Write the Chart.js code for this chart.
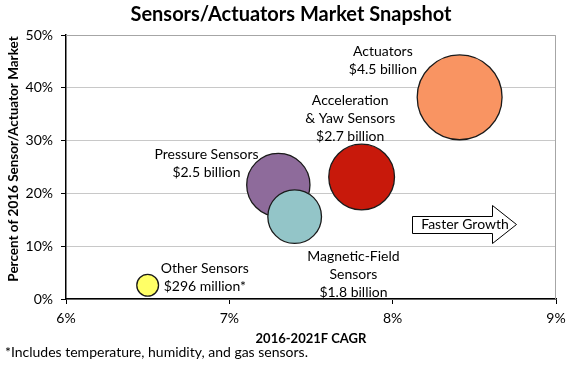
<!DOCTYPE html>
<html lang="en">
<head>
    <meta charset="UTF-8">
    <title>Sensors/Actuators Market Snapshot</title>
    <script src="https://cdn.jsdelivr.net/npm/chart.js"></script>
    <style>
        body { margin: 0; background: #fff; }
        #wrap { width: 571px; height: 366px; }
    </style>
</head>
<body>
<div id="wrap"><canvas id="snapshot" width="571" height="366"></canvas></div>
<script>
// market segments (drawing order: small/back first)
const segments = ['Other Sensors', 'Pressure Sensors', 'Magnetic-Field Sensors', 'Acceleration & Yaw Sensors', 'Actuators'];
const cagr = [6.5, 7.3, 7.4, 7.81, 8.41];          // 2016-2021F CAGR, %
const marketShare = [2.6, 21.6, 15.6, 23.1, 38.2];  // % of 2016 market
const marketSize = [0.296, 2.5, 1.8, 2.7, 4.5];     // $ billion
const sizeText = ['$296 million*', '$2.5 billion', '$1.8 billion', '$2.7 billion', '$4.5 billion'];
const xTicks = [6, 7, 8, 9];
const yTicks = [0, 10, 20, 30, 40, 50];

const colors = ['#ffff66', '#8e6b9b', '#93c5c8', '#c8190b', '#f99462'];
const FONT = 'Lato, "Open Sans", sans-serif';

// label name lines + where the text block is centred (axis units)
const labelLines = [
    ['Other Sensors'],
    ['Pressure Sensors'],
    ['Magnetic-Field', 'Sensors'],
    ['Acceleration', '& Yaw Sensors'],
    ['Actuators']
];
const labelAt = [[6.85, 4.1], [6.86, 25.6], [7.76, 4.7], [7.74, 34.1], [7.94, 45.1]];

const extras = {
    id: 'extras',
    beforeDatasetsDraw(chart) {
        const {ctx, chartArea: a} = chart;
        ctx.save();
        // grey frame on top and right
        ctx.strokeStyle = '#a6a6a6';
        ctx.lineWidth = 1;
        ctx.beginPath();
        ctx.moveTo(a.left, a.top + 0.5);
        ctx.lineTo(a.right - 0.5, a.top + 0.5);
        ctx.lineTo(a.right - 0.5, a.bottom);
        ctx.stroke();
        ctx.restore();
    },
    afterDatasetsDraw(chart) {
        const {ctx} = chart;
        const xs = chart.scales.x, ys = chart.scales.y;
        ctx.save();
        ctx.fillStyle = '#000';
        ctx.textAlign = 'center';
        ctx.textBaseline = 'middle';

        // title
        ctx.font = 'bold 20px ' + FONT;
        ctx.fillText('Sensors/Actuators Market Snapshot', 291, 15);

        // y axis title (sits a bit above the axis middle in the original)
        ctx.save();
        ctx.translate(14, 159);
        ctx.rotate(-Math.PI / 2);
        ctx.font = 'bold 13.5px ' + FONT;
        ctx.fillText('Percent of 2016 Sensor/Actuator Market', 0, 0);
        ctx.restore();

        // bubble labels
        ctx.font = '14px ' + FONT;
        labelLines.forEach((lines, i) => {
            const all = lines.concat([sizeText[i]]);
            const cx = xs.getPixelForValue(labelAt[i][0]);
            const cy = ys.getPixelForValue(labelAt[i][1]);
            const lh = 18;
            all.forEach((t, k) => {
                ctx.fillText(t, cx, cy + (k - (all.length - 1) / 2) * lh);
            });
        });

        // "Faster Growth" arrow
        ctx.beginPath();
        ctx.moveTo(412.5, 216.5);
        ctx.lineTo(492.5, 216.5);
        ctx.lineTo(492.5, 205.5);
        ctx.lineTo(516.5, 224.5);
        ctx.lineTo(492.5, 243.5);
        ctx.lineTo(492.5, 233.5);
        ctx.lineTo(412.5, 233.5);
        ctx.closePath();
        ctx.fillStyle = '#fff';
        ctx.fill();
        ctx.strokeStyle = '#000';
        ctx.lineWidth = 1;
        ctx.stroke();
        ctx.fillStyle = '#000';
        ctx.font = '14px ' + FONT;
        ctx.fillText('Faster Growth', 465, 224);

        // footnote
        ctx.textAlign = 'left';
        ctx.font = '14px ' + FONT;
        ctx.fillText('*Includes temperature, humidity, and gas sensors.', 5, 352);
        ctx.restore();
    }
};

new Chart(document.getElementById('snapshot'), {
    type: 'bubble',
    data: {
        datasets: [{
            label: 'Segments',
            data: segments.map((s, i) => ({x: cagr[i], y: marketShare[i], size: marketSize[i]})),
            radius: ctx => 20 * Math.sqrt(marketSize[ctx.dataIndex]),
            backgroundColor: colors,
            borderColor: '#1a1a1a',
            borderWidth: 1.3,
            clip: false
        }]
    },
    options: {
        responsive: false,
        animation: false,
        events: [],
        layout: { autoPadding: false, padding: { top: 35, right: 15, left: 0, bottom: 0 } },
        plugins: { legend: { display: false }, tooltip: { enabled: false } },
        scales: {
            x: {
                type: 'linear',
                min: 6, max: 9,
                afterBuildTicks: s => { s.ticks = xTicks.map(v => ({value: v})); },
                afterFit: s => { s.height = 67; s.paddingLeft = 0; s.paddingRight = 0; },
                grid: { display: true, drawOnChartArea: false, tickLength: 5, color: '#000', tickColor: '#000' },
                border: { color: '#000', width: 1.5 },
                ticks: { padding: 6, color: '#000', font: { family: FONT, size: 14 }, callback: v => v + '%' },
                title: { display: true, text: '2016-2021F CAGR', color: '#000', font: { family: FONT, size: 13, weight: 'bold' }, padding: { top: 0, bottom: 19 } }
            },
            y: {
                type: 'linear',
                min: 0, max: 50,
                afterBuildTicks: s => { s.ticks = yTicks.map(v => ({value: v})); },
                afterFit: s => { s.width = 66; s.paddingTop = 0; s.paddingBottom = 0; },
                grid: { color: '#c8c8c8', lineWidth: 1, tickLength: 5, tickColor: '#000' },
                border: { color: '#000', width: 1.5 },
                ticks: { padding: 8, color: '#000', font: { family: FONT, size: 14 }, callback: v => v + '%' },
                title: { display: false }
            }
        }
    },
    plugins: [extras]
});
</script>
</body>
</html>
